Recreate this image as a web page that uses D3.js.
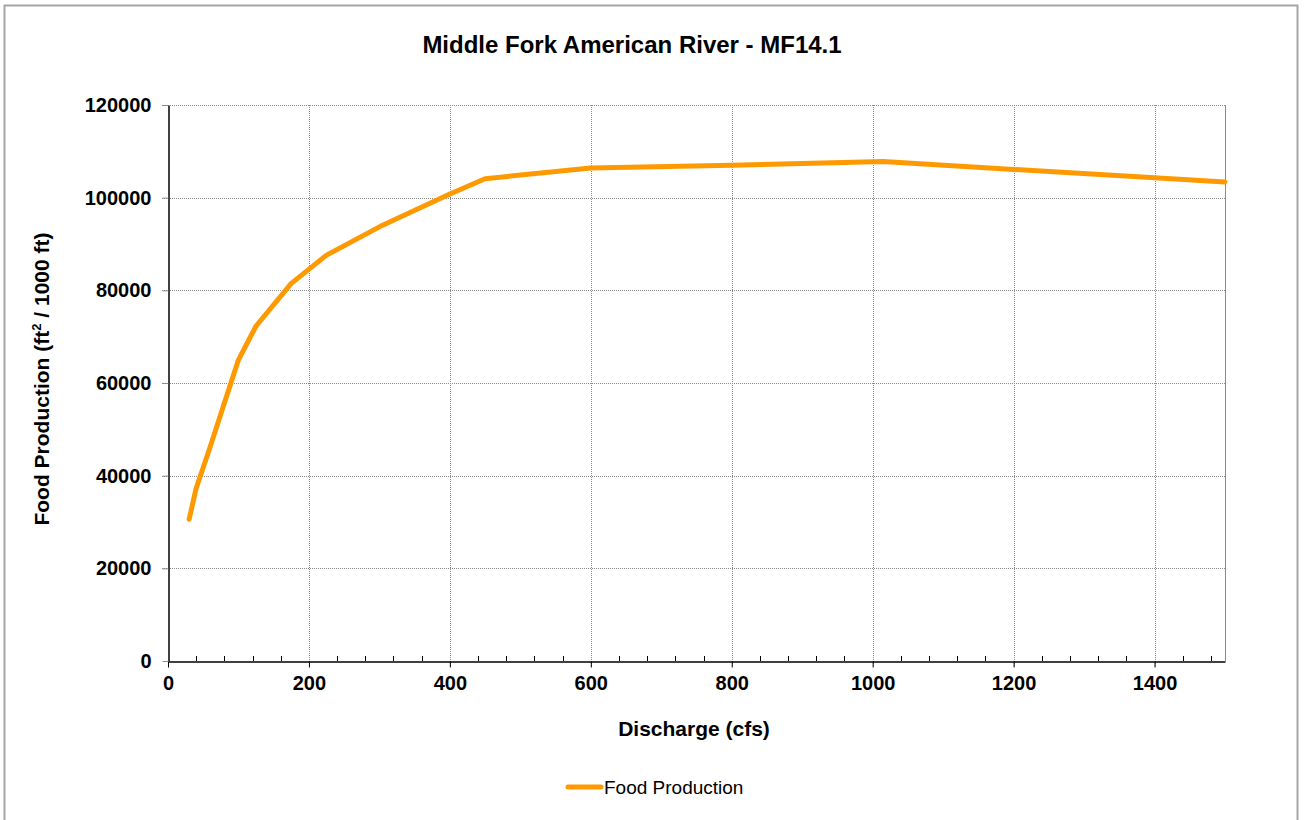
<!DOCTYPE html>
<html><head><meta charset="utf-8">
<script src="https://cdn.jsdelivr.net/npm/d3@7"></script>
<style>body{margin:0;background:#fff}svg{display:block}text{font-family:"Liberation Sans",Arial,sans-serif}</style>
</head><body>
<script>
const title = "Middle Fork American River - MF14.1";
const discharge = [30, 40, 60, 80, 100, 125, 175, 225, 300, 400, 450, 600, 800, 1015, 1200, 1400, 1500];
const foodProduction = [30600, 37300, 46300, 55700, 65000, 72300, 81500, 87600, 93700, 100800, 104100, 106400, 107000, 107800, 106100, 104300, 103400];
const xTicks = [0, 200, 400, 600, 800, 1000, 1200, 1400];
const yTicks = [0, 20000, 40000, 60000, 80000, 100000, 120000];
const seriesName = "Food Production";

const W = 1304, H = 820;
const L = 168, R = 1225, T = 105, B = 661;
const svg = d3.select("body").append("svg").attr("width", W).attr("height", H);
svg.append("rect").attr("x", 4.5).attr("y", 5.5).attr("width", 1293).attr("height", 830)
  .attr("fill", "#fff").attr("stroke", "#a6a6a6").attr("stroke-width", 2);

const x = d3.scaleLinear().domain([0, 1500]).range([L, R]);
const y = d3.scaleLinear().domain([0, 120000]).range([B, T]);

// gridlines
const g = svg.append("g");
g.selectAll(".gy").data(yTicks.slice(1)).join("line")
  .attr("x1", L - 6).attr("x2", R).attr("y1", d => Math.round(y(d)) + 0.5).attr("y2", d => Math.round(y(d)) + 0.5)
  .attr("stroke", "#8c8c8c").attr("stroke-width", 1).attr("stroke-dasharray", "1,1");
g.selectAll(".gx").data(xTicks.slice(1)).join("line")
  .attr("y1", T).attr("y2", B + 6).attr("x1", d => Math.round(x(d)) + 0.5).attr("x2", d => Math.round(x(d)) + 0.5)
  .attr("stroke", "#8c8c8c").attr("stroke-width", 1).attr("stroke-dasharray", "1,1");
// right and top frame
svg.append("line").attr("x1", R + 0.5).attr("x2", R + 0.5).attr("y1", T).attr("y2", B).attr("stroke", "#8c8c8c");
svg.append("line").attr("x1", L).attr("x2", R).attr("y1", T + 0.5).attr("y2", T + 0.5).attr("stroke", "#8c8c8c").attr("stroke-dasharray", "1,1");

// minor ticks on x (inside)
const minor = d3.range(0, 1501, 40).filter(v => v % 200 !== 0);
svg.selectAll(".mt").data(minor).join("line")
  .attr("x1", d => Math.round(x(d)) + 0.5).attr("x2", d => Math.round(x(d)) + 0.5)
  .attr("y1", B).attr("y2", B - 5).attr("stroke", "#000");

// axes
const xAxis = svg.append("g").attr("transform", `translate(0,${B + 0.5})`)
  .call(d3.axisBottom(x).tickValues(xTicks).tickSize(6).tickSizeOuter(0).tickFormat(d3.format("d")));
xAxis.select(".domain").attr("stroke", "#000").attr("stroke-width", 1.5);
xAxis.selectAll("text").attr("font-size", 20).attr("font-weight", "bold").attr("y", 14).attr("dy", "0.71em").attr("fill", "#000");
const yAxis = svg.append("g").attr("transform", `translate(${L + 0.5},0)`)
  .call(d3.axisLeft(y).tickValues(yTicks).tickSize(6).tickSizeOuter(0).tickFormat(d3.format("d")));
yAxis.select(".domain").attr("stroke", "#000").attr("stroke-width", 1.5);
yAxis.selectAll("text").attr("font-size", 20).attr("font-weight", "bold").attr("x", -17).attr("fill", "#000");
yAxis.selectAll(".tick line").attr("stroke", "#8c8c8c");

// series
const line = d3.line().x((d, i) => x(discharge[i])).y(d => y(d));
svg.append("path").datum(foodProduction).attr("d", line)
  .attr("fill", "none").attr("stroke", "#FF9900").attr("stroke-width", 5)
  .attr("stroke-linejoin", "round").attr("stroke-linecap", "round");

// titles
svg.append("text").attr("x", 632).attr("y", 53).attr("text-anchor", "middle")
  .attr("font-size", 24).attr("font-weight", "bold").text(title);
svg.append("text").attr("x", 694).attr("y", 736).attr("text-anchor", "middle")
  .attr("font-size", 21).attr("font-weight", "bold").text("Discharge (cfs)");
const yt = svg.append("text").attr("transform", `translate(49,${379}) rotate(-90)`).attr("text-anchor", "middle")
  .attr("font-size", 21).attr("font-weight", "bold");
yt.append("tspan").text("Food Production (ft");
yt.append("tspan").attr("font-size", 13).attr("dy", -8).text("2");
yt.append("tspan").attr("dy", 8).text(" / 1000 ft)");

// legend
svg.append("line").attr("x1", 568).attr("x2", 601).attr("y1", 787).attr("y2", 787)
  .attr("stroke", "#FF9900").attr("stroke-width", 5).attr("stroke-linecap", "round");
svg.append("text").attr("x", 604).attr("y", 794).attr("font-size", 19).text(seriesName);
</script>
</body></html>
